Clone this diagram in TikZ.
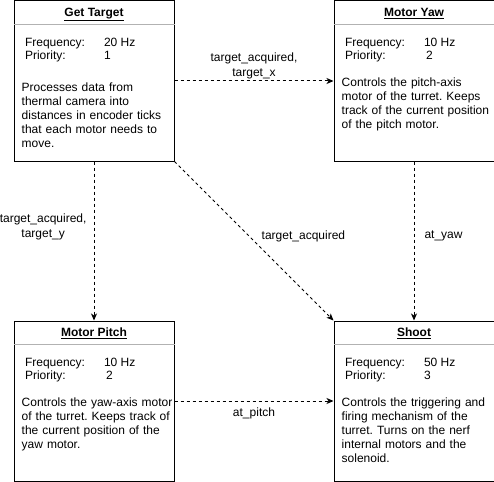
\documentclass[tikz,border=0pt]{standalone}
\usepackage{fontspec}
\setmainfont{Liberation Sans}
\usetikzlibrary{positioning,arrows.meta}
\hyphenpenalty=10000
\exhyphenpenalty=10000
\frenchspacing

\begin{document}
\begin{tikzpicture}[x=1pt, y=-1pt,
    font=\fontsize{12}{14}\selectfont,
    task/.style={draw, line width=1pt, minimum width=160pt, minimum height=160pt,
      inner sep=0pt, anchor=north west},
    sep/.style={draw=black!30, line width=1pt},
    body/.style={anchor=north west, inner sep=0pt, text width=151pt, align=left},
    flow/.style={line width=1pt, dash pattern=on 3pt off 3pt,
      -{Stealth[length=7pt,width=6pt,inset=2pt]}},
    lbl/.style={inner sep=0pt, align=center, font=\fontsize{12}{15}\selectfont}]

\useasboundingbox (0,0) rectangle (494,481);

% task box: [text offset]{name}{x}{y}{title}{frequency}{priority}{text}
\newcommand\TaskBox[8][77]{%
  \node[task] (#2) at (#3,#4) {};
  \draw[sep] ([yshift=-24pt]#2.north west) -- ([yshift=-24pt]#2.north east);
  \node[anchor=base, font=\fontsize{12}{14}\selectfont\bfseries]
    at ([yshift=-16pt]#2.north) {\underline{#5}};
  \node[anchor=base west] at ([xshift=8pt,yshift=-46pt]#2.north west) {Frequency:};
  \node[anchor=base west] at ([xshift=87pt,yshift=-46pt]#2.north west) {#6};
  \node[anchor=base west] at ([xshift=8pt,yshift=-59pt]#2.north west) {Priority:};
  \node[anchor=base west] at ([xshift=87pt,yshift=-59pt]#2.north west) {#7};
  \node[body] at ([xshift=8pt,yshift=-#1pt]#2.north west) {#8};
}

\TaskBox[82]{target}{13.5}{0.5}{Get Target}{20 Hz}{1}{Processes data from
  thermal camera into distances in encoder ticks that each motor needs to move.}
\TaskBox{yaw}{333.5}{0.5}{Motor Yaw}{10 Hz}{\,2}{Controls the pitch-axis motor
  of the turret. Keeps track of the current position of the pitch motor.}
\TaskBox{pitch}{13.5}{320.5}{Motor Pitch}{10 Hz}{\,2}{Controls the yaw-axis motor
  of the turret. Keeps track of the current position of the yaw motor.}
\TaskBox{shoot}{333.5}{320.5}{Shoot}{50 Hz}{3}{Controls the triggering and firing
  mechanism of the turret. Turns on the nerf internal motors and the solenoid.}

% data passed between the tasks
\draw[flow] (target) -- node[lbl, above=2pt] {target\_acquired,\\target\_x} (yaw);
\draw[flow] (target) -- node[lbl, left=7pt, pos=0.41] {target\_acquired,\\target\_y} (pitch);
\draw[flow] (target.south east) -- node[lbl, right=12pt, pos=0.47] {target\_acquired} (shoot.north west);
\draw[flow] (yaw) -- node[lbl, right=10pt, pos=0.47] {at\_yaw} (shoot);
\draw[flow] (pitch) -- node[lbl, below=6pt] {at\_pitch} (shoot);
\end{tikzpicture}
\end{document}
